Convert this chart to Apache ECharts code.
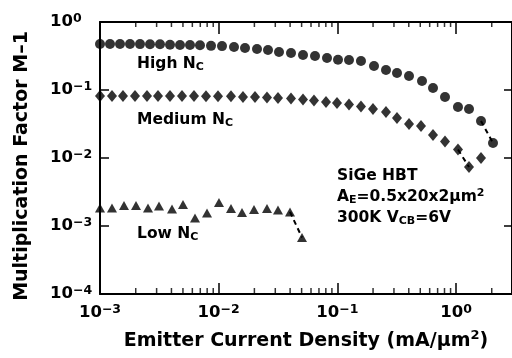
<!DOCTYPE html>
<html><head><meta charset="utf-8">
<script src="https://cdn.jsdelivr.net/npm/echarts@6/dist/echarts.min.js"></script>
<style>html,body{margin:0;padding:0;background:#fff}#c{width:512px;height:358px}</style>
</head><body><div id="c"></div>
<script>
// ---- data ----
const highX = [0.001,0.001214,0.001474,0.00179,0.002174,0.002639,0.003204,0.00389,0.004722,0.005733,0.00696,0.00862,0.01067,0.01347,0.01667,0.02104,0.02604,0.03224,0.0407,0.05136,0.06483,0.08185,0.1013,0.1254,0.1582,0.2037,0.257,0.3182,0.4018,0.5169,0.6399,0.8078,1.039,1.287,1.624,2.05];
const highY = [0.476,0.474,0.475,0.474,0.473,0.472,0.470,0.462,0.460,0.458,0.455,0.446,0.442,0.429,0.415,0.401,0.388,0.362,0.350,0.327,0.316,0.296,0.278,0.276,0.267,0.225,0.197,0.178,0.161,0.136,0.107,0.0789,0.0562,0.0526,0.0350,0.0166];
const medX = [0.001,0.001262,0.001562,0.001972,0.002489,0.003082,0.00389,0.004909,0.006197,0.007822,0.009872,0.0127,0.01603,0.02024,0.02554,0.03162,0.0407,0.05136,0.06357,0.08025,0.09934,0.1254,0.1582,0.1997,0.257,0.3182,0.4018,0.507,0.6399,0.8078,1.039,1.287,1.624];
const medY = [0.0818,0.0816,0.0817,0.0815,0.0816,0.0814,0.0815,0.0813,0.0814,0.0812,0.0811,0.0808,0.0789,0.0788,0.0776,0.0762,0.0750,0.0725,0.0701,0.0666,0.0644,0.0612,0.0572,0.0526,0.0475,0.0388,0.0316,0.0296,0.0218,0.0175,0.0133,0.00737,0.0100];
const lowX = [0.001,0.001262,0.001593,0.002011,0.002538,0.003142,0.004044,0.005006,0.006318,0.007975,0.01006,0.0127,0.01573,0.01985,0.02554,0.03162,0.03992,0.05038];
const lowY = [0.00184,0.00184,0.00200,0.00200,0.00184,0.00197,0.00178,0.00207,0.00131,0.00155,0.00222,0.00181,0.00158,0.00175,0.00181,0.00172,0.00161,0.000677];
const minorTickX = [0.002,0.003,0.004,0.005,0.006,0.007,0.008,0.009,0.02,0.03,0.04,0.05,0.06,0.07,0.08,0.09,0.2,0.3,0.4,0.5,0.6,0.7,0.8,0.9,2];
const xMin = 0.001, xMax = 2.964, yMin = 0.0001, yMax = 1;

const FF = 'DejaVu Sans';
function pairs(xs, ys){ return xs.map((x,i)=>[x, ys[i]]); }
function powLabel(v){
  const e = Math.round(Math.log10(v));
  if (Math.abs(Math.log10(v) - e) > 1e-6) return '';
  return '{b|10}{s|' + (e < 0 ? '\u2212' + (-e) : e) + '}';
}
const labRich = {
  b:{fontFamily:FF,fontWeight:'bold',fontSize:16.5,lineHeight:20,color:'#000'},
  s:{fontFamily:FF,fontWeight:'bold',fontSize:12.5,lineHeight:8,verticalAlign:'top',color:'#000'}
};
const annRich = {
  b:{fontFamily:FF,fontWeight:'bold',fontSize:15.5,lineHeight:18,fill:'#000'},
  s:{fontFamily:FF,fontWeight:'bold',fontSize:11,lineHeight:8,verticalAlign:'bottom',fill:'#000'},
  p:{fontFamily:FF,fontWeight:'bold',fontSize:11,lineHeight:8,verticalAlign:'top',fill:'#000'}
};
function ann(txt, x, y){
  return {type:'text', x:x, y:y, z:10, style:{text:txt, rich:annRich, align:'left', verticalAlign:'middle'}};
}
const axisLine = {show:true, lineStyle:{color:'#000', width:2}};
const dash = {color:'#000', width:2, type:[5,4]};

const chart = echarts.init(document.getElementById('c'), null, {renderer:'canvas'});
chart.setOption({
  animation:false,
  backgroundColor:'#fff',
  grid:{left:100, top:22, width:412, height:272},
  xAxis:[
    {type:'log', logBase:10, min:xMin, max:xMax, position:'bottom',
     axisLine:axisLine, axisTick:{inside:true, length:11, lineStyle:{color:'#000', width:1.5}},
     axisLabel:{formatter:powLabel, rich:labRich, margin:9, showMaxLabel:false},
     splitLine:{show:false},
     name:'{t|Emitter Current Density (mA/\u03bcm}{s|2}{t|)}', nameLocation:'middle', nameGap:35,
     nameTextStyle:{rich:{
       t:{fontFamily:FF,fontWeight:'bold',fontSize:19,lineHeight:24,color:'#000'},
       s:{fontFamily:FF,fontWeight:'bold',fontSize:13,lineHeight:10,verticalAlign:'top',color:'#000'}}}},
    {type:'log', logBase:10, min:xMin, max:xMax, position:'top',
     axisLine:axisLine, axisTick:{inside:true, length:12, lineStyle:{color:'#000', width:1.5}},
     axisLabel:{show:false}, splitLine:{show:false}}
  ],
  yAxis:[
    {type:'log', logBase:10, min:yMin, max:yMax, position:'left',
     axisLine:axisLine, axisTick:{inside:true, length:9, lineStyle:{color:'#000', width:1.5}},
     axisLabel:{formatter:powLabel, rich:labRich, margin:50, align:'left'},
     splitLine:{show:false},
     name:'Multiplication Factor M\u20131', nameLocation:'middle', nameRotate:90, nameGap:68,
     nameTextStyle:{fontFamily:FF, fontWeight:'bold', fontSize:19, color:'#000', padding:[0,16,0,0]}},
    {type:'log', logBase:10, min:yMin, max:yMax, position:'right',
     axisLine:axisLine, axisTick:{inside:true, length:8, lineStyle:{color:'#000', width:1.5}},
     axisLabel:{show:false}, splitLine:{show:false}}
  ],
  series:[
    {type:'line', data:pairs(highX.slice(-2), highY.slice(-2)), symbol:'none', lineStyle:dash, silent:true},
    {type:'line', data:pairs(medX.slice(30,32), medY.slice(30,32)), symbol:'none', lineStyle:dash, silent:true},
    {type:'line', data:pairs(lowX.slice(-2), lowY.slice(-2)), symbol:'none', lineStyle:dash, silent:true},
    {name:'High', type:'scatter', data:pairs(highX, highY), symbol:'circle', symbolSize:10, itemStyle:{color:'#000'}},
    {name:'Medium', type:'scatter', data:pairs(medX, medY), symbol:'diamond', symbolSize:[10,12], itemStyle:{color:'#000'}},
    {name:'Low', type:'scatter', data:pairs(lowX, lowY), symbol:'triangle', symbolSize:[10,9], itemStyle:{color:'#000'}},
    {type:'scatter', data:minorTickX.map(v=>[v, yMin]), symbol:'rect', symbolSize:[1.5,6], symbolOffset:[0,-3], itemStyle:{color:'#000'}, silent:true, z:5},
    {type:'scatter', data:minorTickX.map(v=>[v, yMax]), symbol:'rect', symbolSize:[1.5,5], symbolOffset:[0,2.5], itemStyle:{color:'#000'}, silent:true, z:5}
  ],
  graphic:[
    ann('{b|High N}{s|C}', 137, 64),
    ann('{b|Medium N}{s|C}', 137, 120),
    ann('{b|Low N}{s|C}', 137, 234),
    ann('{b|SiGe HBT}', 337, 176),
    ann('{b|A}{s|E}{b|=0.5x20x2\u03bcm}{p|2}', 337, 197),
    ann('{b|300K V}{s|CB}{b|=6V}', 337, 217.5)
  ]
});
</script></body></html>
